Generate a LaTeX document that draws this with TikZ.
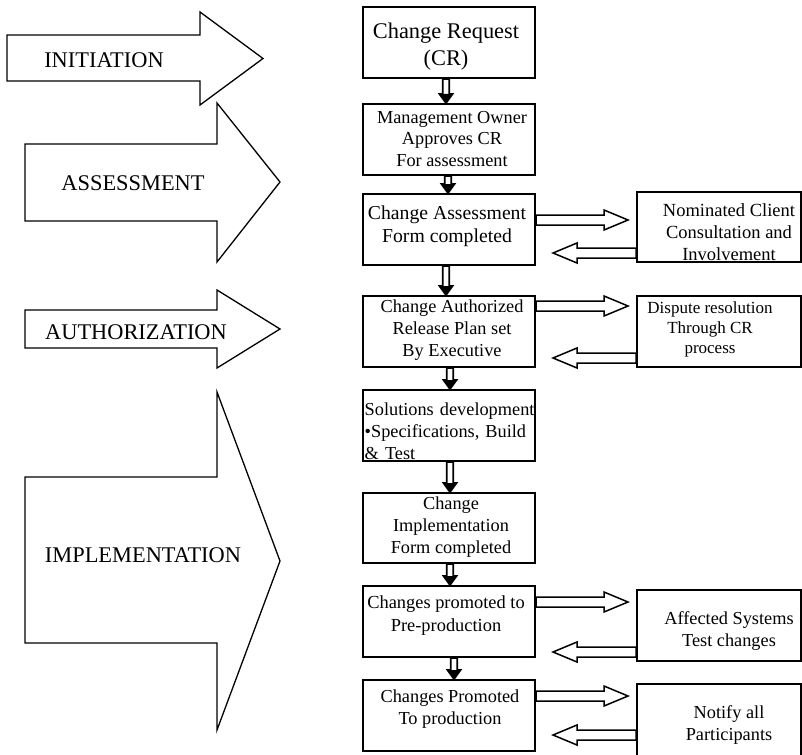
\documentclass[tikz,border=0pt]{standalone}
\usepackage{fontspec}
\setmainfont{Liberation Serif}
\usetikzlibrary{calc}

% Hollow block arrow from #2 to #3: style #1, shaft half-width #4,
% head half-width #5, head length #6.
\newcommand\blockarrow[6]{%
  \path (#2) coordinate (ba-a) (#3) coordinate (ba-b);
  \path ($(ba-b)!#6!(ba-a)$) coordinate (ba-h);
  \draw[#1] ($(ba-a)!#4!90:(ba-b)$) -- ($(ba-h)!#4!90:(ba-b)$)
    -- ($(ba-h)!#5!90:(ba-b)$) -- (ba-b) -- ($(ba-h)!#5!-90:(ba-b)$)
    -- ($(ba-h)!#4!-90:(ba-b)$) -- ($(ba-a)!#4!-90:(ba-b)$) -- cycle;}
% step-to-step arrow: double-line shaft with a solid head
\newcommand\flowdown[2]{%
  \blockarrow{line width=1.8pt,fill=white,line join=miter}{#1}{#2}{3.2pt}{6.5pt}{9pt}%
  \fill ($(ba-h)!6.5pt!90:(ba-b)$) -- (ba-b) -- ($(ba-h)!6.5pt!-90:(ba-b)$) -- cycle;}
\newcommand\flowside[2]{\blockarrow{line width=1.5pt,fill=white}{#1}{#2}{5pt}{10pt}{24pt}}

\tikzset{
  phase/.style={draw,line width=1.3pt,fill=white},
  phaselabel/.style={inner sep=0pt,font=\fontsize{22.4}{26}\selectfont},
  stepbox/.style={draw,line width=2pt,minimum width=172pt,minimum height=71pt,inner sep=0pt},
  sidebox/.style={draw,line width=2pt,minimum width=164pt,minimum height=71pt,inner sep=0pt},
  txt/.style={inner sep=0pt,align=center,font=\fontsize{18.3}{22}\selectfont},
}

\begin{document}
\begin{tikzpicture}[x=1pt,y=-1pt]
\useasboundingbox (0,0) rectangle (802,754);

% phase arrows
\draw[phase] (7,35) -- (200,35) -- (200,12) -- (263,58.5) -- (200,105) -- (200,81) -- (7,81) -- cycle;
\node[phaselabel] (initiation) at (104,60) {INITIATION};
\draw[phase] (25,144) -- (217,144) -- (217,103) -- (280,182) -- (217,262) -- (217,221) -- (25,221) -- cycle;
\node[phaselabel] (assessment) at (133,183) {ASSESSMENT};
\draw[phase] (25,310) -- (217,310) -- (217,290) -- (280,329) -- (217,368) -- (217,348) -- (25,348) -- cycle;
\node[phaselabel] (authorization) at (136,332) {AUTHORIZATION};
\draw[phase] (25,477) -- (217,477) -- (217,392) -- (280,561) -- (217,730) -- (217,643) -- (25,643) -- cycle;
\node[phaselabel] (implementation) at (143,555) {IMPLEMENTATION};

% main process steps
\node[stepbox] (cr)  at (449,42.5)  {};
\node[txt,font=\fontsize{22.4}{27}\selectfont] (cr-t) at (446,47) {Change Request\\(CR)};
\node[stepbox] (mo)  at (449,139.5) {};
\node[txt,font=\fontsize{18.3}{21.7}\selectfont] (mo-t) at (452,139) {Management Owner\\Approves CR\\For assessment};
\node[stepbox] (ca)  at (449,229.5) {};
\node[txt,font=\fontsize{19.7}{23.3}\selectfont] (ca-t) at (447,226) {Change Assessment\\Form completed};
\node[stepbox] (cau) at (449,331.5) {};
\node[txt] (cau-t) at (452,330) {Change Authorized\\Release Plan set\\By Executive};
\node[stepbox] (sol) at (449,425.5) {};
\node[txt,align=left,anchor=west,text width=172pt] (sol-t) at (364.5,431) {Solutions development\\•Specifications, Build\\\&~Test};
\node[stepbox,minimum height=70pt] (ci) at (449,528) {};
\node[txt] (ci-t) at (451,527) {Change\\Implementation\\Form completed};
\node[stepbox] (cpp) at (449,621.5) {};
\node[txt,font=\fontsize{18.4}{23}\selectfont] (cpp-t) at (446,616) {Changes promoted to\\Pre-production};
\node[stepbox] (cp)  at (449,715.5) {};
\node[txt] (cp-t) at (450,709) {Changes Promoted\\To production};

% side boxes
\node[sidebox,minimum height=70pt] (nc) at (719,227) {};
\node[txt,font=\fontsize{18.5}{22}\selectfont] (nc-t) at (729,232) {Nominated Client\\Consultation and\\Involvement};
\node[sidebox] (dr) at (719,331.5) {};
\node[txt,font=\fontsize{17}{20}\selectfont] (dr-t) at (710,329) {Dispute resolution\\Through CR\\process};
\node[sidebox] (as) at (719,625.5) {};
\node[txt] (as-t) at (729,631) {Affected Systems\\Test changes};
\node[sidebox,minimum height=72pt] (na) at (719,720) {};
\node[txt] (na-t) at (729,725) {Notify all\\Participants};

% flow between steps
\flowdown{$(cr.south)+(-3,0)$}{$(mo.north)+(-3,0)$}
\flowdown{$(mo.south)+(-1,0)$}{$(ca.north)+(-1,0)$}
\flowdown{$(ca.south)+(-3,0)$}{$(cau.north)+(-3,0)$}
\flowdown{$(cau.south)+(1,0)$}{$(sol.north)+(1,0)$}
\flowdown{$(sol.south)+(1,0)$}{$(ci.north)+(1,0)$}
\flowdown{$(ci.south)+(1,0)$}{$(cpp.north)+(1,0)$}
\flowdown{$(cpp.south)+(5,0)$}{$(cp.north)+(5,0)$}

% exchanges with side boxes
\flowside{$(ca.east)+(0,-9.5)$}{$(nc.west)+(-8,-7)$}
\flowside{$(nc.west)+(0,26)$}{$(ca.east)+(17,23.5)$}
\flowside{$(cau.east)+(0,-25.5)$}{$(dr.west)+(-8,-25.5)$}
\flowside{$(dr.west)+(0,26.5)$}{$(cau.east)+(17,26.5)$}
\flowside{$(cpp.east)+(0,-19.5)$}{$(as.west)+(-8,-23.5)$}
\flowside{$(as.west)+(0,26.5)$}{$(cpp.east)+(17,30.5)$}
\flowside{$(cp.east)+(0,-19.5)$}{$(na.west)+(-8,-24)$}
\flowside{$(na.west)+(0,15)$}{$(cp.east)+(17,19.5)$}
\end{tikzpicture}
\end{document}
